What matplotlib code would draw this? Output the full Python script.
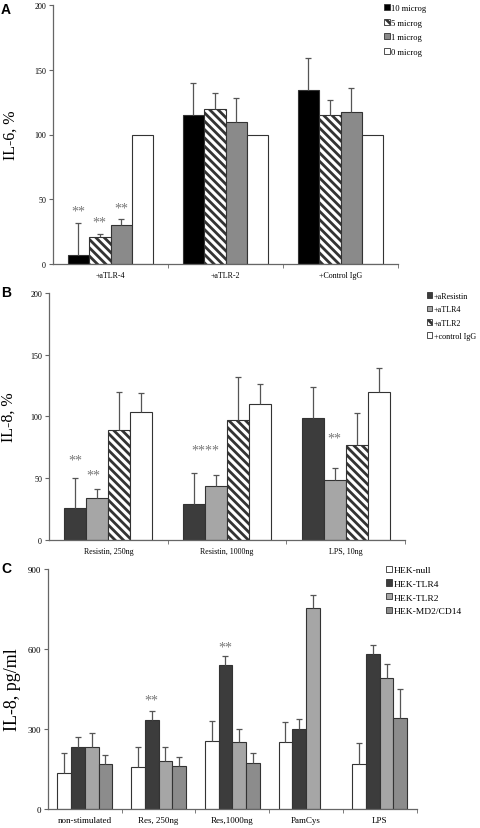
import numpy as np
import matplotlib
matplotlib.use('Agg')
import matplotlib.pyplot as plt
from matplotlib.patches import Patch

plt.rcParams['font.family'] = ['Liberation Serif', 'DejaVu Serif']
plt.rcParams['hatch.linewidth'] = 2.0

# Panel A: IL-6, %
a_groups = ['+aTLR-4', '+aTLR-2', '+Control IgG']
a_labels = ['10 microg', '5 microg', '1 microg', '0 microg']
a_10 = [7, 115, 134]
a_5 = [21, 120, 115]
a_1 = [30, 110, 117]
a_0 = [100, 100, 100]
a_10_err = [25, 25, 25]
a_5_err = [2.5, 12, 11.5]
a_1_err = [4.5, 18, 19]
a_0_err = [np.nan, np.nan, np.nan]

# Panel B: IL-8, %
b_groups = ['Resistin, 250ng', 'Resistin, 1000ng', 'LPS, 10ng']
b_labels = ['+aResistin', '+aTLR4', '+aTLR2', '+control IgG']
b_ares = [25.7, 29, 98.6]
b_atlr4 = [34, 43.4, 48]
b_atlr2 = [88.6, 97.3, 76.4]
b_igg = [103.5, 110, 120]
b_ares_err = [24.7, 25, 25.2]
b_atlr4_err = [7, 9.4, 10.3]
b_atlr2_err = [31.2, 34.4, 26.6]
b_igg_err = [15.2, 16.6, 19]

# Panel C: IL-8, pg/ml
c_groups = ['non-stimulated', 'Res, 250ng', 'Res,1000ng', 'PamCys', 'LPS']
c_labels = ['HEK-null', 'HEK-TLR4', 'HEK-TLR2', 'HEK-MD2/CD14']
c_null = [135, 157, 257, 253, 171]
c_tlr4 = [234, 335, 540, 300, 580]
c_tlr2 = [234, 182, 253, 753, 490]
c_md2 = [168, 162, 175, np.nan, 342]
c_null_err = [74, 77, 75, 75, 76]
c_tlr4_err = [38, 34, 32, 39, 35]
c_tlr2_err = [53, 52, 49, 50, 52]
c_md2_err = [34, 35, 37, np.nan, 107]

EDGE = '#333333'
HATCHED = dict(facecolor='white', hatch='\\\\\\\\')
BLACK = dict(facecolor='black')
GRAY = dict(facecolor='#8a8a8a')
WHITE = dict(facecolor='white')
DARK = dict(facecolor='#3c3c3c')
LIGHT = dict(facecolor='#a6a6a6')
MID = dict(facecolor='#8c8c8c')


def draw_panel(ax, groups, series, errs, styles, labels, ylim, yticks, ylabel,
               ylabel_size, ylabel_pad, tick_size, leg_xy, leg_size, leg_spacing):
    x = np.arange(len(groups))
    w = 0.186
    n = len(series)
    for i, (vals, err, st) in enumerate(zip(series, errs, styles)):
        vals = np.array(vals, dtype=float)
        err = np.array(err, dtype=float)
        pos = x + (i - (n - 1) / 2) * w
        ok = np.isfinite(vals)
        ax.bar(pos[ok], vals[ok], w, edgecolor=EDGE, linewidth=0.8, zorder=2, **st)
        ok2 = ok & np.isfinite(err)
        if ok2.any():
            eb = ax.errorbar(pos[ok2], vals[ok2],
                             yerr=[np.zeros(ok2.sum()), err[ok2]],
                             fmt='none', ecolor='#555555', elinewidth=0.9,
                             capsize=2.3, capthick=0.9, zorder=3)
            eb[1][0].set_visible(False)
    ax.set_xlim(-0.5, len(groups) - 0.5)
    ax.set_ylim(*ylim)
    ax.set_yticks(yticks)
    ax.set_xticks(x)
    ax.set_xticklabels(groups, fontsize=tick_size)
    ax.set_xticks(np.arange(len(groups)) + 0.5, minor=True)
    ax.tick_params(axis='x', which='major', length=0, pad=5)
    ax.tick_params(axis='x', which='minor', length=3, color='#666666')
    ax.tick_params(axis='y', length=3, color='#666666', labelsize=tick_size, pad=2)
    for s in ['top', 'right']:
        ax.spines[s].set_visible(False)
    for s in ['left', 'bottom']:
        ax.spines[s].set_color('#666666')
        ax.spines[s].set_linewidth(0.9)
    ax.set_ylabel(ylabel, fontsize=ylabel_size, labelpad=ylabel_pad)
    handles = [Patch(edgecolor=EDGE, linewidth=0.6, **st) for st in styles]
    fig.legend(handles, labels, loc='upper left', bbox_to_anchor=leg_xy,
               frameon=False, fontsize=leg_size, handlelength=0.65,
               handleheight=0.65, handletextpad=0.15, borderpad=0,
               labelspacing=leg_spacing)


fig = plt.figure(figsize=(4.8, 8.29), dpi=100)
H = 829.0
w = 0.186
star = dict(ha='center', va='center', fontsize=10, color='#777777')

axA = fig.add_axes([53 / 480, 1 - 265 / H, 345 / 480, 259 / H])
draw_panel(axA, a_groups, [a_10, a_5, a_1, a_0],
           [a_10_err, a_5_err, a_1_err, a_0_err],
           [BLACK, HATCHED, GRAY, WHITE], a_labels,
           (0, 200), [0, 50, 100, 150, 200], 'IL-6, %', 11.5, 11, 5.8,
           (380 / 480, 1 - 1 / H), 6.2, 0.75)
for xs, ys in [(-1.5 * w, 41), (-0.5 * w, 32.5), (0.5 * w, 43)]:
    axA.text(xs, ys, '**', **star)

axB = fig.add_axes([49 / 480, 1 - 540.7 / H, 356 / 480, 246.7 / H])
draw_panel(axB, b_groups, [b_ares, b_atlr4, b_atlr2, b_igg],
           [b_ares_err, b_atlr4_err, b_atlr2_err, b_igg_err],
           [DARK, LIGHT, HATCHED, WHITE], b_labels,
           (0, 200), [0, 50, 100, 150, 200], 'IL-8, %', 11.5, 10, 5.8,
           (423 / 480, 1 - 289 / H), 5.9, 0.65)
for xs, ys, t in [(-1.5 * w, 64.5, '**'), (-0.7 * w, 52.5, '**'),
                  (1 - w, 73, '****'), (2 - 0.5 * w, 82.5, '**')]:
    axB.text(xs, ys, t, **star)

axC = fig.add_axes([48 / 480, 1 - 810.3 / H, 368.5 / 480, 240.6 / H])
draw_panel(axC, c_groups, [c_null, c_tlr4, c_tlr2, c_md2],
           [c_null_err, c_tlr4_err, c_tlr2_err, c_md2_err],
           [WHITE, DARK, LIGHT, MID], c_labels,
           (0, 900), [0, 300, 600, 900], 'IL-8, pg/ml', 13, 5, 6.5,
           (381 / 480, 1 - 562 / H), 6.8, 0.55)
for xs, ys in [(1 - 0.5 * w, 410), (2 - 0.5 * w, 606)]:
    axC.text(xs, ys, '**', **star)

for letter, ytop in [('A', 3), ('B', 286), ('C', 562)]:
    fig.text(0.002, 1 - ytop / H, letter, ha='left', va='top', fontsize=10,
             fontweight='bold', family='Liberation Sans')

fig.savefig('out.png', dpi=100)
